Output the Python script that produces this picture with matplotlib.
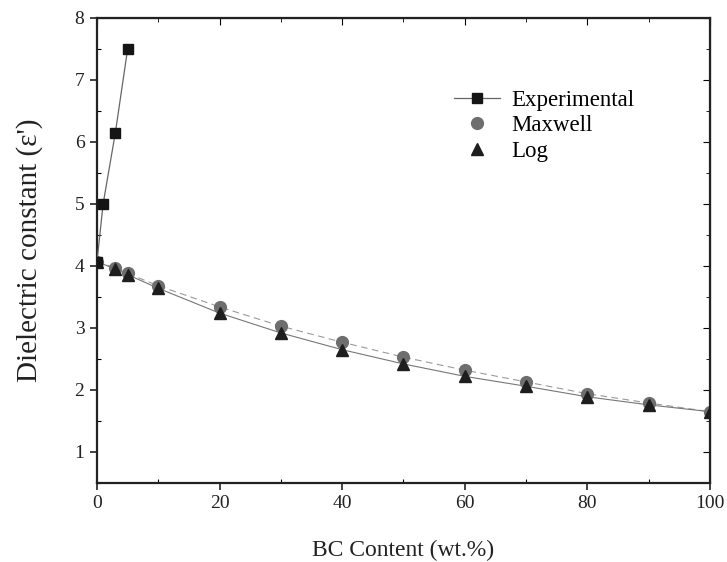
import numpy as np
import matplotlib
matplotlib.use('Agg')
import matplotlib.pyplot as plt
from matplotlib.ticker import MultipleLocator

plt.rcParams['font.family'] = ['Liberation Serif', 'DejaVu Serif']

# ── Datos ────────────────────────────────────────────────────────────────
exp_x = [0, 1, 3, 5]
exp_y = [4.07, 5.0, 6.15, 7.5]

mod_x = [0, 3, 5, 10, 20, 30, 40, 50, 60, 70, 80, 90, 100]
maxwell_y = [4.07, 3.97, 3.88, 3.68, 3.34, 3.03, 2.77, 2.53, 2.32, 2.13, 1.94, 1.79, 1.65]
log_y = [4.07, 3.95, 3.86, 3.64, 3.24, 2.92, 2.65, 2.42, 2.22, 2.06, 1.89, 1.76, 1.65]

fig = plt.figure(figsize=(7.27, 5.62), dpi=100)
ax = fig.add_axes([0.1334, 0.1406, 0.8432, 0.8274])

ax.plot(mod_x, maxwell_y, color='#9a9a9a', lw=0.8, ls=(0, (6, 4)), zorder=1)
ax.plot(mod_x, log_y, color='#777777', lw=0.8, zorder=1)
ax.plot(mod_x, maxwell_y, ls='none', marker='o', ms=8.5, color='#6e6e6e',
        label='Maxwell', zorder=2)
ax.plot(mod_x, log_y, ls='none', marker='^', ms=8, color='#1e1e1e',
        label='Log', zorder=3)
ax.plot(exp_x, exp_y, color='#666666', lw=0.9, marker='s', ms=7.5,
        mfc='#151515', mec='#151515', label='Experimental', zorder=4)

ax.set_xlim(0, 100)
ax.set_ylim(0.5, 8)
ax.xaxis.set_major_locator(MultipleLocator(20))
ax.xaxis.set_minor_locator(MultipleLocator(10))
ax.yaxis.set_major_locator(MultipleLocator(1))
ax.yaxis.set_minor_locator(MultipleLocator(0.5))
ax.set_yticks([1, 2, 3, 4, 5, 6, 7, 8])

ax.tick_params(which='major', direction='out', length=5, width=1.2,
               labelsize=14, colors='#222222', pad=4)
ax.tick_params(which='minor', direction='in', length=3, width=0.8)
for s in ax.spines.values():
    s.set_linewidth(1.6)
    s.set_color('#222222')

# ticks espejo hacia adentro
top = ax.secondary_xaxis('top')
top.xaxis.set_major_locator(MultipleLocator(20))
top.xaxis.set_minor_locator(MultipleLocator(10))
top.tick_params(which='major', direction='in', length=5, labeltop=False)
top.tick_params(which='minor', direction='in', length=3)
right = ax.secondary_yaxis('right')
right.yaxis.set_major_locator(MultipleLocator(1))
right.yaxis.set_minor_locator(MultipleLocator(0.5))
right.tick_params(which='major', direction='in', length=5, labelright=False)
right.tick_params(which='minor', direction='in', length=3)

ax.set_xlabel('BC Content (wt.%)', fontsize=17, color='#222222', labelpad=20)
ax.set_ylabel("Dielectric constant (ε')", fontsize=21, color='#222222', labelpad=23)

h, l = ax.get_legend_handles_labels()
order = [2, 0, 1]
ax.legend([h[i] for i in order], [l[i] for i in order], loc='upper left',
          bbox_to_anchor=(0.549, 0.89), frameon=False, fontsize=16.5,
          handlelength=2.0, handletextpad=0.5, labelspacing=0.2)

fig.savefig('out.png', dpi=100)
